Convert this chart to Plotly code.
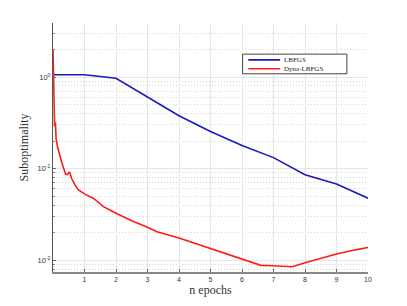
import plotly.graph_objects as go

epochs_lbfgs = [0, 1, 2, 3, 4, 5, 6, 7, 8, 9, 10]
lbfgs = [1.06, 1.06, 0.97, 0.60, 0.378, 0.255, 0.179, 0.132, 0.0857, 0.068, 0.0476]

epochs_dyna = [0, 0.01, 0.02, 0.03, 0.05, 0.076, 0.1, 0.15, 0.2, 0.3, 0.4, 0.45, 0.5, 0.53,
               0.6, 0.7, 0.8, 0.9, 1.0, 1.3, 1.6, 2, 2.5, 3, 3.3, 4, 5, 6, 6.6, 7, 7.6,
               8, 9, 9.6, 10]
dyna = [2.0, 1.2, 0.6, 0.33, 0.29, 0.32, 0.21, 0.17, 0.145, 0.11, 0.087, 0.086, 0.0905, 0.0905,
        0.077, 0.066, 0.059, 0.056, 0.053, 0.047, 0.0385, 0.0326, 0.027, 0.0229, 0.0205,
        0.0175, 0.0135, 0.0103, 0.0088, 0.0087, 0.0085, 0.0094, 0.0117, 0.013, 0.0138]

series_names = ["LBFGS", "Dyna-LBFGS"]
series_colors = ["#1a1aba", "#ff1a1a"]

x_ticks = [1, 2, 3, 4, 5, 6, 7, 8, 9, 10]
y_ticks = [0.01, 0.1, 1]
y_ticktext = ["10<sup>-2</sup>", "10<sup>-1</sup>", "10<sup>0</sup>"]
y_minor = [0.008, 0.009, 0.02, 0.03, 0.04, 0.05, 0.06, 0.07, 0.08, 0.09,
           0.2, 0.3, 0.4, 0.5, 0.6, 0.7, 0.8, 0.9, 2, 3]

serif = "Liberation Serif, DejaVu Serif, serif"
sans = "Liberation Sans, Arial, sans-serif"

fig = go.Figure()
fig.add_trace(go.Scatter(x=epochs_lbfgs, y=lbfgs, mode="lines", name=series_names[0],
                         line=dict(color=series_colors[0], width=1.6)))
fig.add_trace(go.Scatter(x=epochs_dyna, y=dyna, mode="lines", name=series_names[1],
                         line=dict(color=series_colors[1], width=1.6)))

# custom compact legend (MATLAB style box)
lx0, lx1, ly0, ly1 = 0.602, 0.933, 0.796, 0.875
shapes = [dict(type="rect", xref="paper", yref="paper", x0=lx0, x1=lx1, y0=ly0, y1=ly1,
               line=dict(color="#444", width=1), fillcolor="white", layer="above")]
annotations = []
row_y = [0.852, 0.816]
for name, color, yy in zip(series_names, series_colors, row_y):
    shapes.append(dict(type="line", xref="paper", yref="paper", x0=0.620, x1=0.721,
                       y0=yy, y1=yy, line=dict(color=color, width=1.6), layer="above"))
    annotations.append(dict(xref="paper", yref="paper", x=0.727, y=yy, text=name,
                            showarrow=False, xanchor="left", yanchor="middle",
                            font=dict(family=serif, size=7, color="#222")))

fig.update_layout(
    width=407, height=306,
    margin=dict(l=53, r=39, t=23, b=34, autoexpand=False),
    paper_bgcolor="white", plot_bgcolor="white",
    showlegend=False,
    shapes=shapes, annotations=annotations,
)
fig.update_xaxes(
    range=[0, 10], tickvals=x_ticks, ticks="inside", ticklen=3, tickcolor="#666",
    showline=True, linecolor="#888", linewidth=1.5, mirror=False,
    showgrid=True, gridcolor="#e6e6e6", gridwidth=1, zeroline=False, automargin=False,
    tickfont=dict(family=sans, size=7, color="#333"),
    title=dict(text="n epochs", font=dict(family=serif, size=12, color="#333"), standoff=2),
)
fig.update_yaxes(
    type="log", range=[-2.128, 0.59],
    tickvals=y_ticks, ticktext=y_ticktext, ticks="inside", ticklen=3, tickcolor="#666",
    showline=True, linecolor="#555", linewidth=1, mirror=False,
    showgrid=True, gridcolor="#e6e6e6", gridwidth=1, zeroline=False, automargin=False,
    tickfont=dict(family=sans, size=7.5, color="#333"),
    minor=dict(tickmode="array", tickvals=y_minor, showgrid=True, gridcolor="#d6d6d6",
               griddash="1px,2px", ticks="inside", ticklen=2, tickcolor="#888"),
    title=dict(text="Suboptimality", font=dict(family=serif, size=12, color="#333"), standoff=6),
)
fig.write_html("out.html", post_script="document.body.style.margin='0';",
               config={"displayModeBar": False})
